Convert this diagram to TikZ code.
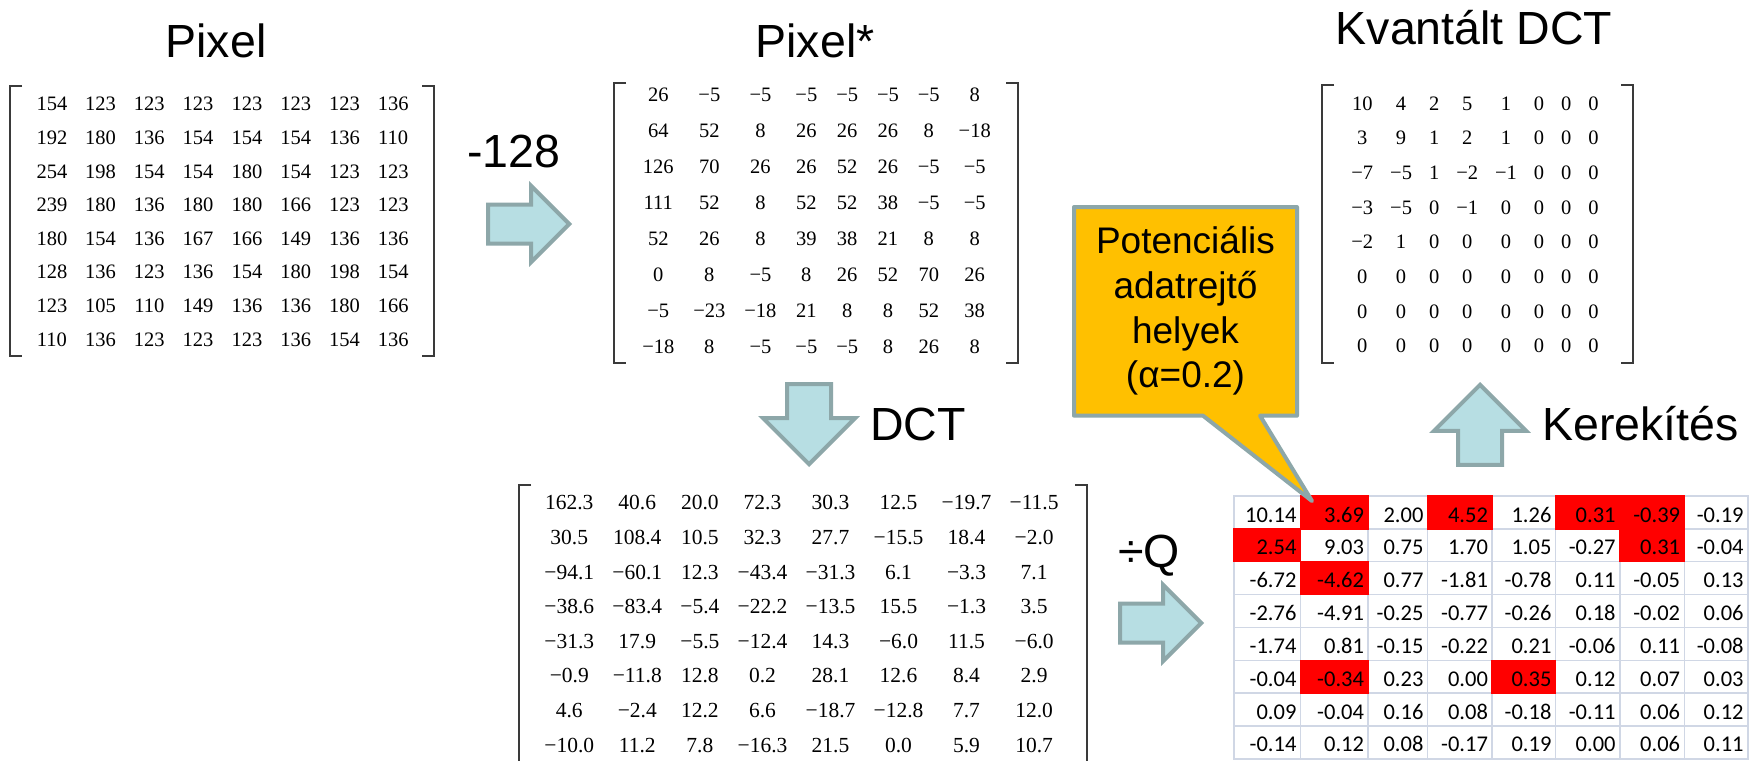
\documentclass[tikz,border=0pt]{standalone}
\usepackage{fontspec}
\setmainfont{Liberation Serif}
\newfontfamily\labelfont{Liberation Sans}
\newfontfamily\numfont{Liberation Serif}
\newfontfamily\cellfont{Carlito}
\usetikzlibrary{matrix,shapes.arrows}

\definecolor{arrowfill}{HTML}{B7DEE3}
\definecolor{arrowline}{HTML}{8DA7A9}
\definecolor{notefill}{HTML}{FFC000}
\definecolor{gridline}{HTML}{D0D7E5}
\definecolor{bracketcol}{HTML}{3A3A3A}
\definecolor{hot}{HTML}{FF0000}

\tikzset{
  title/.style={font=\labelfont\fontsize{46.5}{56}\selectfont, inner sep=0pt},
  num/.style={font=\numfont\fontsize{20.5}{24}\selectfont, inner sep=0pt,
              text height=14pt, text depth=0pt},
  numbig/.style={num, font=\numfont\fontsize{21.5}{26}\selectfont},
  numgrid/.style={matrix of nodes, inner sep=0pt, row sep=0pt},
  brk/.style={draw=bracketcol, line width=2.5pt},
  blockarrow/.style={single arrow, draw=arrowline, fill=arrowfill, line width=4pt,
                     inner xsep=0pt, single arrow tip angle=90, line join=miter},
  harrow/.style={blockarrow, inner ysep=17.5pt, single arrow head extend=18.5pt,
                 minimum height=81pt},
  varrow/.style={blockarrow, inner ysep=20pt, single arrow head extend=24pt,
                 minimum height=80pt},
  gridcell/.style={draw=gridline, line width=1.5pt},
  cell/.style={font=\cellfont\fontsize{22.5}{27}\selectfont, inner sep=0pt},
  notebox/.style={draw=arrowline, fill=notefill, line width=4pt, line join=round},
  notetext/.style={font=\labelfont\fontsize{37}{44.6}\selectfont, align=center, inner sep=0pt}
}

\begin{document}
\begin{tikzpicture}[x=1pt, y=-1pt]
\useasboundingbox (0,0) rectangle (1758,760);
\fill[white] (0,0) rectangle (1758,760);

% ---------- titles and operation labels ----------
\node[title, anchor=base] (t-pix)  at (216,58)  {Pixel};
\node[title, anchor=base] (t-pixs) at (815,58)  {Pixel*};
\node[title, anchor=base] (t-kv)   at (1474,45) {Kvantált DCT};
\node[title, anchor=base] (l-sub)  at (514,167) {-128};
\node[title, anchor=base west] (l-dct)   at (870,440)  {DCT};
\node[title, anchor=base west] (l-div)   at (1118,567) {÷Q};
\node[title, anchor=base west] (l-round) at (1542,440) {Kerekítés};

% ---------- pixel block ----------
\matrix (pix) [numgrid, column sep=18pt, nodes={num, minimum height=33.6pt}] at (222.5,221.5) {
154 & 123 & 123 & 123 & 123 & 123 & 123 & 136 \\
192 & 180 & 136 & 154 & 154 & 154 & 136 & 110 \\
254 & 198 & 154 & 154 & 180 & 154 & 123 & 123 \\
239 & 180 & 136 & 180 & 180 & 166 & 123 & 123 \\
180 & 154 & 136 & 167 & 166 & 149 & 136 & 136 \\
128 & 136 & 123 & 136 & 154 & 180 & 198 & 154 \\
123 & 105 & 110 & 149 & 136 & 136 & 180 & 166 \\
110 & 136 & 123 & 123 & 123 & 136 & 154 & 136 \\
};
\draw[brk] (22,86) -- (10,86) -- (10,356) -- (22,356);
\draw[brk] (422,86) -- (434,86) -- (434,356) -- (422,356);

% ---------- level-shifted block ----------
\matrix (pixs) [numgrid, column sep=19pt, nodes={num, minimum height=35.86pt}] at (816.5,220.5) {
26 & −5 & −5 & −5 & −5 & −5 & −5 & 8 \\
64 & 52 & 8 & 26 & 26 & 26 & 8 & −18 \\
126 & 70 & 26 & 26 & 52 & 26 & −5 & −5 \\
111 & 52 & 8 & 52 & 52 & 38 & −5 & −5 \\
52 & 26 & 8 & 39 & 38 & 21 & 8 & 8 \\
0 & 8 & −5 & 8 & 26 & 52 & 70 & 26 \\
−5 & −23 & −18 & 21 & 8 & 8 & 52 & 38 \\
−18 & 8 & −5 & −5 & −5 & 8 & 26 & 8 \\
};
\draw[brk] (626,83) -- (614,83) -- (614,363) -- (626,363);
\draw[brk] (1006,83) -- (1018,83) -- (1018,363) -- (1006,363);

% ---------- DCT coefficients ----------
\matrix (dct) [numgrid, column sep=18.25pt, nodes={numbig, minimum height=34.6pt}] at (801.5,624) {
162.3 & 40.6 & 20.0 & 72.3 & 30.3 & 12.5 & −19.7 & −11.5 \\
30.5 & 108.4 & 10.5 & 32.3 & 27.7 & −15.5 & 18.4 & −2.0 \\
−94.1 & −60.1 & 12.3 & −43.4 & −31.3 & 6.1 & −3.3 & 7.1 \\
−38.6 & −83.4 & −5.4 & −22.2 & −13.5 & 15.5 & −1.3 & 3.5 \\
−31.3 & 17.9 & −5.5 & −12.4 & 14.3 & −6.0 & 11.5 & −6.0 \\
−0.9 & −11.8 & 12.8 & 0.2 & 28.1 & 12.6 & 8.4 & 2.9 \\
4.6 & −2.4 & 12.2 & 6.6 & −18.7 & −12.8 & 7.7 & 12.0 \\
−10.0 & 11.2 & 7.8 & −16.3 & 21.5 & 0.0 & 5.9 & 10.7 \\
};
\draw[brk] (531,485) -- (519,485) -- (519,762);
\draw[brk] (1075,485) -- (1087,485) -- (1087,762);

% ---------- quantised block ----------
\matrix (kv) [numgrid, column sep=17pt, nodes={num, minimum height=34.7pt}] at (1475,224.5) {
10 & 4 & 2 & 5 & 1 & 0 & 0 & 0 \\
3 & 9 & 1 & 2 & 1 & 0 & 0 & 0 \\
−7 & −5 & 1 & −2 & −1 & 0 & 0 & 0 \\
−3 & −5 & 0 & −1 & 0 & 0 & 0 & 0 \\
−2 & 1 & 0 & 0 & 0 & 0 & 0 & 0 \\
0 & 0 & 0 & 0 & 0 & 0 & 0 & 0 \\
0 & 0 & 0 & 0 & 0 & 0 & 0 & 0 \\
0 & 0 & 0 & 0 & 0 & 0 & 0 & 0 \\
};
\draw[brk] (1334,85) -- (1322,85) -- (1322,363) -- (1334,363);
\draw[brk] (1621,85) -- (1633,85) -- (1633,363) -- (1621,363);

% ---------- block arrows ----------
\node[harrow, anchor=tip] (a-sub) at (572,224) {};
\node[harrow, anchor=tip] (a-div) at (1204,623) {};
\node[varrow, rotate=-90, anchor=tip] (a-dct) at (809,467) {};
\node[varrow, rotate=90, anchor=tip] (a-round) at (1480,382) {};

% ---------- divided coefficients table ----------
\def\colx{{1234,1300.6,1368.2,1427.6,1492.1,1555.6,1619.8,1684.3,1747.8}}
\def\rowh{32.85}
\def\tabrows{{10.14,3.69,2.00,4.52,1.26,0.31,-0.39,-0.19},
  {2.54,9.03,0.75,1.70,1.05,-0.27,0.31,-0.04},
  {-6.72,-4.62,0.77,-1.81,-0.78,0.11,-0.05,0.13},
  {-2.76,-4.91,-0.25,-0.77,-0.26,0.18,-0.02,0.06},
  {-1.74,0.81,-0.15,-0.22,0.21,-0.06,0.11,-0.08},
  {-0.04,-0.34,0.23,0.00,0.35,0.12,0.07,0.03},
  {0.09,-0.04,0.16,0.08,-0.18,-0.11,0.06,0.12},
  {-0.14,0.12,0.08,-0.17,0.19,0.00,0.06,0.11}}
% grid
\foreach \r in {1,...,8} {
  \foreach \c in {1,...,8} {
    \pgfmathsetmacro\xl{\colx[\c-1]}
    \pgfmathsetmacro\xr{\colx[\c]}
    \pgfmathsetmacro\yt{496+(\r-1)*\rowh}
    \draw[gridcell] (\xl,\yt) rectangle (\xr,\yt+\rowh);
  }
}
% highlighted cells
\foreach \r/\c in {1/2,1/4,1/6,1/7,2/1,2/7,3/2,6/2,6/5} {
  \pgfmathsetmacro\xl{\colx[\c-1]}
  \pgfmathsetmacro\xr{\colx[\c]}
  \pgfmathsetmacro\yt{496+(\r-1)*\rowh}
  \fill[hot] (\xl-0.75,\yt-0.75) rectangle (\xr+0.75,\yt+\rowh+0.75);
}
% values
\foreach \row [count=\r] in \tabrows {
  \foreach \v [count=\c] in \row {
    \pgfmathsetmacro\xr{\colx[\c]}
    \pgfmathsetmacro\yt{496+(\r-1)*\rowh}
    \node[cell, anchor=base east] (tq-\r-\c) at (\xr-4,\yt+26) {\v};
  }
}

% ---------- callout ----------
\coordinate (calltip) at (1312,501);
\draw[notebox] (1074,207) -- (1297,207) -- (1297,415.7) -- (1260,415.7)
  -- (calltip) -- (1203,415.7) -- (1074,415.7) -- cycle;
\node[notetext] (note) at (1185.5,311) {Potenciális\\adatrejtő\\helyek\\(α=0.2)};
\end{tikzpicture}
\end{document}
